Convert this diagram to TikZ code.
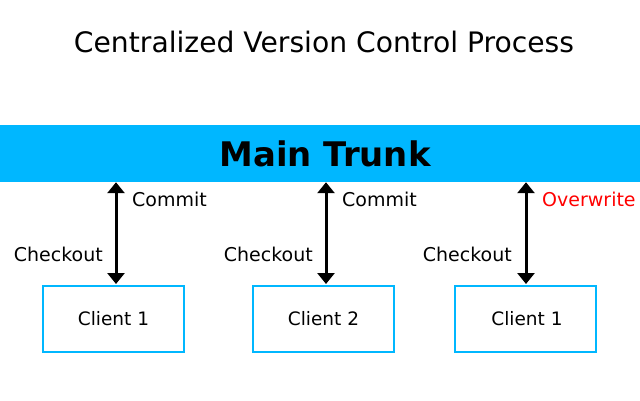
\documentclass[tikz,border=0pt]{standalone}
\usepackage{fontspec}
\setmainfont{DejaVu Sans}
\usetikzlibrary{arrows.meta}
\definecolor{trunkblue}{RGB}{0,183,255}
\tikzset{
  client/.style={draw=trunkblue, line width=2pt, minimum width=141pt, minimum height=66pt, font=\fontsize{18.5}{21}\selectfont},
  lbl/.style={font=\fontsize{19}{22}\selectfont, inner sep=0pt}
}
\begin{document}
\begin{tikzpicture}[x=1pt, y=-1pt, > = {Triangle[width=17pt,length=11pt]}]
            \useasboundingbox (0,0) rectangle (640,400);

            \node[font=\fontsize{28.2}{32}\selectfont] (title) at (324,42) {Centralized Version Control Process};

            \node[fill=trunkblue, minimum width=640pt, minimum height=57pt, inner sep=0pt,
                  font=\fontsize{33.9}{38}\selectfont\bfseries] (trunk) at (320,153.5) {\hspace*{10pt}Main Trunk};

            \node[client] (c1) at (113.5,319) {Client 1};
            \node[client] (c2) at (323.5,319) {Client 2};
            \node[client] (c3) at (525.5,319) {\hspace*{3pt}Client 1};

            \draw[<->, line width=3pt] ([xshift=2.5pt, yshift=1pt]c1.north) -- ([xshift=2.5pt]c1.north |- trunk.south);
            \draw[<->, line width=3pt] ([xshift=2.5pt, yshift=1pt]c2.north) -- ([xshift=2.5pt]c2.north |- trunk.south);
            \draw[<->, line width=3pt] ([xshift=0.5pt, yshift=1pt]c3.north) -- ([xshift=0.5pt]c3.north |- trunk.south);

            \node[lbl, anchor=west] (commit1) at (132,199) {Commit};
            \node[lbl, anchor=east] (check1) at (103,254) {Checkout};
            \node[lbl, anchor=west] (commit2) at (342,199) {Commit};
            \node[lbl, anchor=east] (check2) at (313,254) {Checkout};
            \node[lbl, anchor=west, text=red] (over3) at (542,199) {Overwrite};
            \node[lbl, anchor=east] (check3) at (512,254) {Checkout};
        \end{tikzpicture}
\end{document}
